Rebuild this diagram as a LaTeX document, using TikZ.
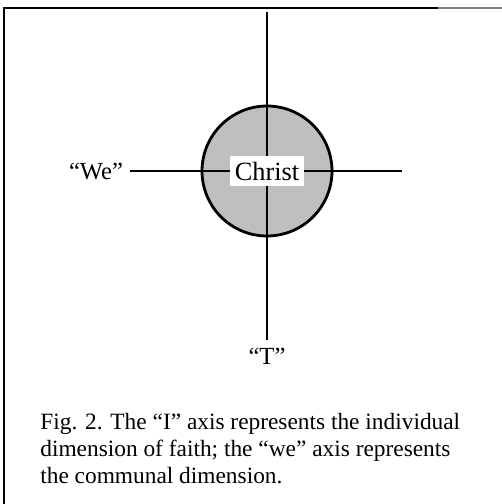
\documentclass[tikz,border=0pt]{standalone}
\usepackage{fontspec}
\setmainfont{Liberation Serif}
\usetikzlibrary{positioning}

\begin{document}
\begin{tikzpicture}[x=0.02cm,y=-0.02cm,font=\fontsize{14}{16}\selectfont,
   axis/.style={line width=1.1pt},
   lab/.style={inner sep=4pt},
   capt/.style={font=\fontsize{13.3}{14.74}\selectfont,align=left,anchor=north west,inner sep=0pt}]
  \useasboundingbox (0,0) rectangle (502,504);
  % frame
  \draw[line width=1pt] (4,504) -- (4,8) -- (438,8);
  \draw[gray,line width=0.8pt] (438,8) -- (502,8);
  \coordinate (c) at (267,171);
  \coordinate (itop) at (267,12);
  \coordinate (wend) at (402,171);
  \fill[gray!50] (c) circle[radius=1.3cm];
  \node[lab] (we) at (96,171) {“We”};
  \node[lab] (i) at (267,356) {“T”};
  \draw[axis] (itop) -- (i);
  \draw[axis] (we) -- (wend);
  \draw[line width=1.6pt] (c) circle[radius=1.3cm];
  \node[fill=white,inner sep=3pt,font=\fontsize{15}{17}\selectfont] (christ) at (c) {Christ};
  \node[capt] (cap) at (40,413) {Fig. 2. The “I” axis represents the individual\\[0.6pt]
    dimension of faith; the “we” axis represents\\[0.6pt]
    the communal dimension.};
\end{tikzpicture}
\end{document}
